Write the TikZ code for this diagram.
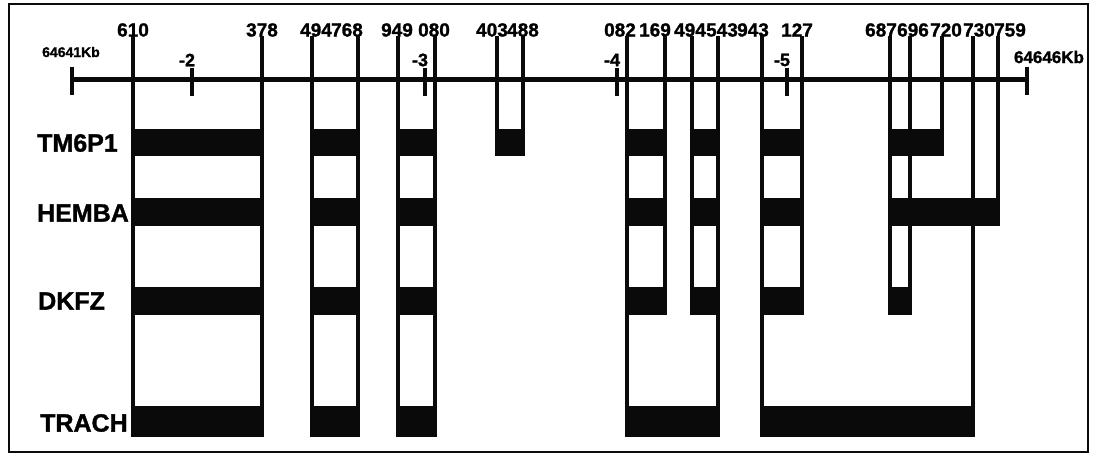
\documentclass[tikz,border=0pt]{standalone}
\usepackage{fontspec}
\setmainfont{Liberation Sans}[BoldFeatures={FakeBold=1.3}]
\usepackage{tikz}
\usetikzlibrary{positioning}
\definecolor{inkblack}{RGB}{10,10,10}
\definecolor{inkgray}{RGB}{70,70,70}
\tikzset{
  framebox/.style={draw=inkblack,line width=2.5pt},
  axisline/.style={draw=inkblack,line width=5pt},
  endtick/.style={draw=inkblack,line width=4.5pt},
  minortick/.style={draw=inkblack,line width=4pt},
  exonline/.style={draw=inkblack,line width=3.5pt},
  exonbar/.style={fill=inkblack,draw=inkblack,line width=3.5pt},
  cutlbl/.style={font=\fontsize{19}{19}\selectfont\bfseries,inner sep=0pt},
  minorlbl/.style={font=\fontsize{18}{18}\selectfont\bfseries,inner sep=0pt},
  kblbl/.style={font=\fontsize{14}{14}\selectfont\bfseries,inner sep=0pt},
  rowlbl/.style={font=\fontsize{25}{25}\selectfont\bfseries,inner sep=0pt,anchor=west}
}
\begin{document}
\begin{tikzpicture}[x=1pt,y=-1pt]
  \useasboundingbox (0,0) rectangle (1095,462);
  \draw[framebox] (9,4) rectangle (1088,452);
  \draw[axisline] (72,80) -- (1027,80);
  \foreach \x in {72,1027}
    \draw[endtick] (\x,67) -- (\x,95);
  \node[kblbl] (kbleft) at (71,52) {64641Kb};
  \node[kblbl,font=\fontsize{17}{17}\selectfont\bfseries] (kbright) at (1049,57) {64646Kb};
  \foreach \x/\lbl [count=\i] in {192/-2,425/-3,617/-4,787/-5} {
    \draw[minortick] (\x,68) -- (\x,96);
    \node[minorlbl] (mark\i) at (\x-5,60) {\lbl};
  }
  \foreach \x/\yb/\lbl/\lx [count=\i] in {133/435/610/133,262/435/378/262,
      312/435/494/316,358/435/768/347,398/435/949/397,435/435/080/434,
      497/154/403/492,523/154/488/523,627/435/082/620,665/313/169/655,
      692/313/494/690,718/435/543/722,762/435/943/753,802/313/127/797,
      890/313/687/881,910/289/696/913,942/154/720/946,973/435/730/979,
      998/224/759/1010} {
    \node[cutlbl] (cut\i) at (\lx,30) {\lbl};
    \draw[exonline] (\x,36) -- (\x,\yb);
  }
  \foreach \xa/\xb in {133/262,312/358,398/435,497/523,627/665,692/718,762/802,890/942}
    \draw[exonbar] (\xa,131) rectangle (\xb,154);
  \foreach \xa/\xb in {133/262,312/358,398/435,627/665,692/718,762/802,890/998}
    \draw[exonbar] (\xa,200) rectangle (\xb,224);
  \foreach \xa/\xb in {133/262,312/358,398/435,627/665,692/718,762/802,890/910}
    \draw[exonbar] (\xa,289) rectangle (\xb,313);
  \foreach \xa/\xb in {133/262,312/358,398/435,627/718,762/973}
    \draw[exonbar] (\xa,408) rectangle (\xb,435);
  \node[rowlbl] (tm6p1) at (37,143) {TM6P1};
  \node[rowlbl] (hemba) at (37,213) {HEMBA};
  \node[rowlbl] (dkfz) at (38,301) {DKFZ};
  \node[rowlbl] (trach) at (40,423) {TRACH};
\end{tikzpicture}
\end{document}
